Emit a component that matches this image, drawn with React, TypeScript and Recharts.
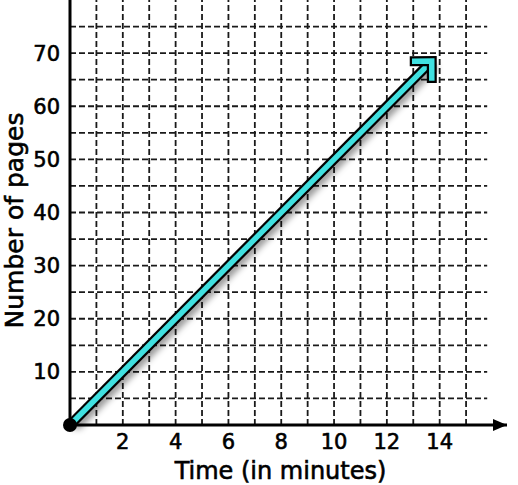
import React from 'react';
import { LineChart, Line, XAxis, YAxis, ReferenceLine, ReferenceDot, Label } from 'recharts';

const timeMinutes = [0, 13.7];
const pageCounts = [0, 68.5];
const xTicks = [2, 4, 6, 8, 10, 12, 14];
const yTicks = [10, 20, 30, 40, 50, 60, 70];
const gridX = [1, 2, 3, 4, 5, 6, 7, 8, 9, 10, 11, 12, 13, 14, 15];
const gridY = [5, 10, 15, 20, 25, 30, 35, 40, 45, 50, 55, 60, 65, 70, 75];
const X_MAX = 16.55;
const Y_MAX = 80;
const GRID_END = 15.8;

const data = timeMinutes.map((t, i) => ({ time: t, pages: pageCounts[i] }));

const FONT = '"DejaVu Sans", "Open Sans", sans-serif';
const CYAN = '#40e0e0';
const TEXT_STYLE = { fill: '#000', stroke: '#000', strokeWidth: 0.6, fontFamily: FONT };

const makeArrowDot = (color: string, width: number) => (props: any) => {
  const { cx, cy, index, points } = props;
  if (index !== data.length - 1 || cx == null) return <g key={`d${index}`} />;
  let angle = -Math.PI / 4;
  if (points && points.length > 1) {
    const p0 = points[points.length - 2];
    angle = Math.atan2(cy - p0.y, cx - p0.x);
  }
  const L = 17;
  const a1 = angle + Math.PI - Math.PI / 4;
  const a2 = angle + Math.PI + Math.PI / 4;
  const d = `M${cx + L * Math.cos(a1)},${cy + L * Math.sin(a1)} L${cx},${cy} L${cx + L * Math.cos(a2)},${cy + L * Math.sin(a2)}`;
  return (
    <path key={`d${index}`} d={d} fill="none" stroke={color} strokeWidth={width} strokeLinejoin="miter" strokeLinecap="square" />
  );
};

const XArrow = (props: any) => {
  const { cx, cy } = props;
  return <path d={`M${cx - 14},${cy - 6} L${cx},${cy} L${cx - 14},${cy + 6} Z`} fill="#000" />;
};

export default function App() {
  return (
    <div style={{ position: 'absolute', left: 0, top: 0, width: 518, height: 485, background: '#fff' }}>
      <style>{`.trend-shadow { filter: drop-shadow(3px 4px 3px rgba(0,0,0,0.4)); }`}</style>
      <LineChart width={518} height={485} data={data} margin={{ top: 0, right: 11, left: 0, bottom: 0 }}>
        <XAxis
          dataKey="time"
          type="number"
          domain={[0, X_MAX]}
          ticks={xTicks}
          allowDataOverflow
          height={60}
          tickLine={false}
          tickSize={0}
          tickMargin={9}
          axisLine={{ stroke: '#000', strokeWidth: 3 }}
          tick={{ ...TEXT_STYLE, fontSize: 21 }}
        >
          <Label
            value="Time (in minutes)"
            position="insideBottom"
            offset={6}
            dx={-8}
            style={{ ...TEXT_STYLE, fontSize: 24 }}
          />
        </XAxis>
        <YAxis
          type="number"
          domain={[0, Y_MAX]}
          ticks={yTicks}
          allowDataOverflow
          width={70}
          tickLine={false}
          tickSize={0}
          tickMargin={10}
          axisLine={{ stroke: '#000', strokeWidth: 3 }}
          tick={{ ...TEXT_STYLE, fontSize: 21 }}
        >
          <Label
            value="Number of pages"
            angle={-90}
            position="insideLeft"
            offset={14}
            dy={8}
            style={{ ...TEXT_STYLE, textAnchor: 'middle', fontSize: 25 }}
          />
        </YAxis>
        {gridX.map((v) => (
          <ReferenceLine key={`gx${v}`} x={v} stroke="#1a1a1a" strokeWidth={1.8} strokeDasharray="6 3" />
        ))}
        {gridY.map((v) => (
          <ReferenceLine
            key={`gy${v}`}
            segment={[{ x: 0, y: v }, { x: GRID_END, y: v }]}
            stroke="#1a1a1a"
            strokeWidth={1.8}
            strokeDasharray="6 3"
          />
        ))}
        <Line
          className="trend-shadow"
          dataKey="pages"
          stroke="#000"
          strokeWidth={10}
          isAnimationActive={false}
          dot={makeArrowDot('#000', 10)}
          activeDot={false}
        />
        <Line
          dataKey="pages"
          stroke={CYAN}
          strokeWidth={5.5}
          isAnimationActive={false}
          dot={makeArrowDot(CYAN, 5.5)}
          activeDot={false}
        />
        <ReferenceDot x={0} y={0} r={7} fill="#000" stroke="none" ifOverflow="visible" />
        <ReferenceDot x={X_MAX} y={0} ifOverflow="visible" shape={XArrow} />
      </LineChart>
    </div>
  );
}
